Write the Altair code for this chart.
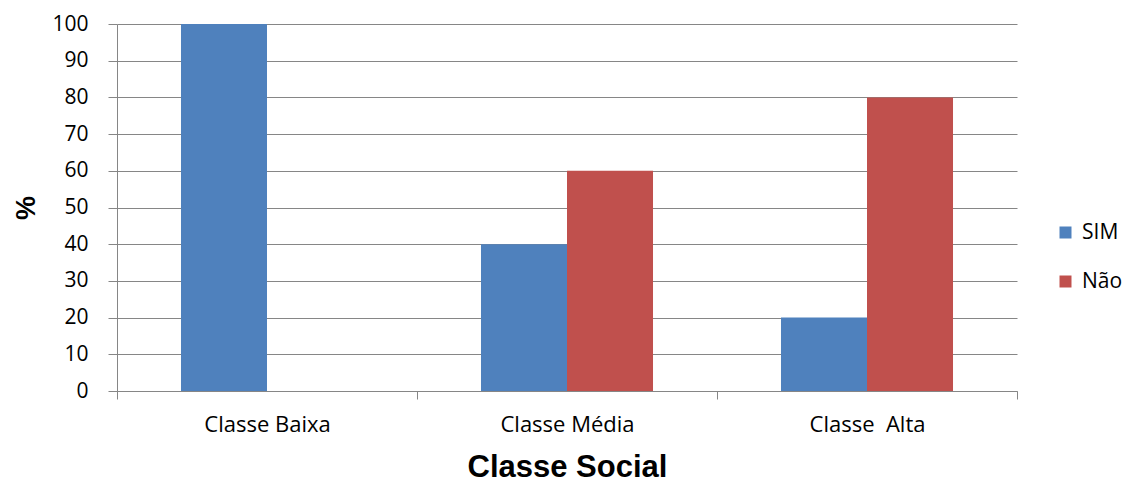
import altair as alt
import pandas as pd

categories = ["Classe Baixa", "Classe Média", "Classe\u00a0 Alta"]
sim_values = [100, 40, 20]
nao_values = [0, 60, 80]
series = ["SIM", "Não"]
colors = ["#4F81BD", "#C0504D"]

rows = []
for c, s, n in zip(categories, sim_values, nao_values):
    rows.append({"cat": c, "serie": "SIM", "val": s})
    rows.append({"cat": c, "serie": "Não", "val": n})
df = pd.DataFrame(rows)

LABEL_FONT = "Open Sans"
TITLE_FONT = "Liberation Sans"

chart = alt.Chart(df).mark_bar().encode(
    x=alt.X("cat:N", sort=categories,
            scale=alt.Scale(paddingInner=0, paddingOuter=0),
            axis=alt.Axis(title="Classe Social", labelAngle=0, tickBand="extent",
                          labelFont=LABEL_FONT, labelFontSize=22, labelColor="#000000",
                          labelPadding=15, tickSize=8, tickColor="#868686",
                          domainColor="#868686", titleFont=TITLE_FONT,
                          titleFontSize=31, titleFontWeight="bold", titleColor="#000000",
                          titlePadding=17, grid=False)),
    xOffset=alt.XOffset("serie:N", sort=series,
                        scale=alt.Scale(paddingInner=0, paddingOuter=0.744)),
    y=alt.Y("val:Q", scale=alt.Scale(domain=[0, 100], nice=False),
            axis=alt.Axis(title="%", values=list(range(0, 101, 10)),
                          labelFont=LABEL_FONT, labelFontSize=21, labelColor="#000000",
                          labelPadding=20, tickSize=9, tickColor="#868686",
                          domainColor="#868686", gridColor="#868686",
                          titleFont=TITLE_FONT, titleFontSize=27, titleFontWeight="bold",
                          titleColor="#000000", titlePadding=11)),
    color=alt.Color("serie:N", sort=series,
                    scale=alt.Scale(domain=series, range=colors),
                    legend=alt.Legend(title=None, orient="none", legendX=938, legendY=198,
                                      symbolType="square", symbolSize=144,
                                      symbolStrokeWidth=0, labelFont=LABEL_FONT,
                                      labelFontSize=21, labelColor="#000000",
                                      rowPadding=27, labelOffset=6)),
).properties(
    width=900, height=367,
    autosize=alt.AutoSizeParams(type="none"),
    padding={"left": 117, "top": 24, "right": 112, "bottom": 92},
).configure_view(stroke=None).configure_axis(
    gridWidth=1, domainWidth=1, tickWidth=1
)

chart.save("out.html", embed_options={"renderer": "svg", "actions": False})
